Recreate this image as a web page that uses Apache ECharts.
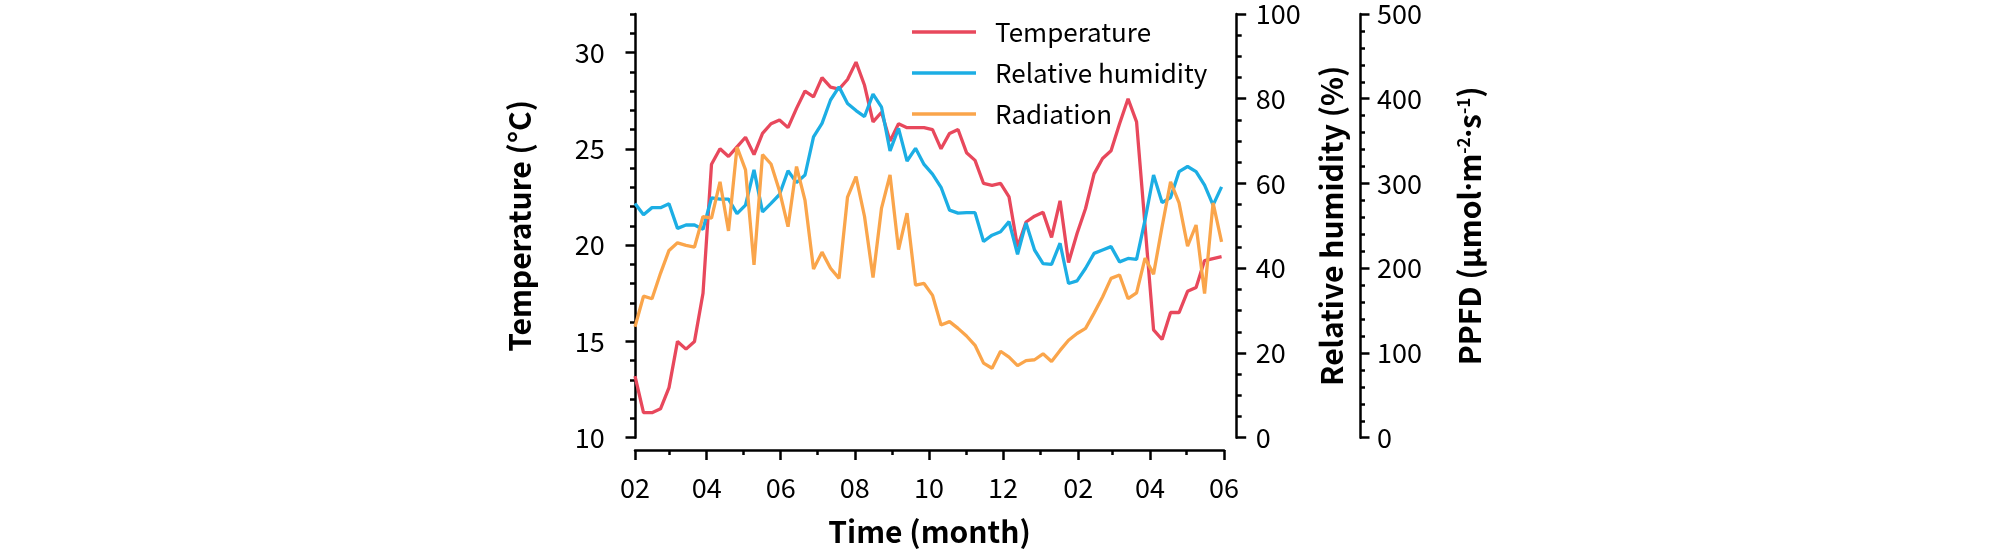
<!DOCTYPE html>
<html>
<head>
<meta charset="utf-8">
<script src="https://cdn.jsdelivr.net/npm/echarts@6/dist/echarts.min.js"></script>
<style>html,body{margin:0;padding:0;background:#fff}#c{width:2008px;height:555px}</style>
</head>
<body>
<div id="c"></div>
<script>
// Weekly observations starting 1 Feb (year 1) through end of May (year 2)
const firstWeek = '2021-02-01';
const temperature = [13.2, 11.3, 11.3, 11.5, 12.6, 15.0, 14.6, 15.0, 17.5, 24.2,
  25.0, 24.6, 25.1, 25.6, 24.7, 25.8, 26.3, 26.5, 26.1, 27.1,
  28.0, 27.7, 28.7, 28.2, 28.1, 28.6, 29.5, 28.3, 26.4, 26.9,
  25.4, 26.3, 26.1, 26.1, 26.1, 26.0, 25.0, 25.8, 26.0, 24.8,
  24.4, 23.2, 23.1, 23.2, 22.5, 19.9, 21.2, 21.5, 21.7, 20.4,
  22.3, 19.1, 20.6, 21.9, 23.7, 24.5, 24.9, 26.3, 27.6, 26.4,
  21.0, 15.6, 15.1, 16.5, 16.5, 17.6, 17.8, 19.2, 19.3, 19.4];
const humidity = [55.3, 52.6, 54.3, 54.3, 55.2, 49.4, 50.2, 50.2, 49.2, 56.6,
  56.3, 56.3, 52.9, 54.9, 63.2, 53.3, 55.3, 57.4, 63.0, 60.2,
  62.0, 71.0, 74.2, 79.7, 82.8, 78.9, 77.2, 75.8, 81.1, 78.0,
  67.7, 73.0, 65.3, 68.3, 64.5, 62.2, 59.1, 53.7, 53.0, 53.1,
  53.1, 46.3, 47.8, 48.6, 51.0, 43.3, 50.7, 44.3, 41.1, 40.9,
  45.9, 36.4, 37.0, 40.0, 43.5, 44.3, 45.1, 41.5, 42.3, 42.1,
  51.4, 62.0, 55.5, 56.7, 62.8, 64.0, 62.8, 59.6, 54.9, 59.2];
const radiation = [131, 167, 164, 194, 221, 230, 227, 225, 261, 259,
  302, 244, 343, 316, 204, 334, 323, 291, 249, 320,
  280, 199, 219, 200, 188, 284, 308, 261, 189, 271,
  310, 222, 265, 180, 182, 168, 133, 137, 129, 120,
  109, 88, 82, 102, 95, 85, 91, 92, 99, 90,
  103, 115, 123, 129, 147, 166, 188, 192, 164, 171,
  212, 193, 249, 302, 277, 226, 251, 170, 277, 231];
const monthTicks = ['2021-02-01','2021-03-01','2021-04-01','2021-05-01','2021-06-01','2021-07-01',
  '2021-08-01','2021-09-01','2021-10-01','2021-11-01','2021-12-01','2022-01-01','2022-02-01',
  '2022-03-01','2022-04-01','2022-05-01','2022-06-01'];
const monthLabels = ['2021-02-01','2021-04-01','2021-06-01','2021-08-01','2021-10-01',
  '2021-12-01','2022-02-01','2022-04-01','2022-06-01'];
const tempLabels = [10, 15, 20, 25, 30];
const seriesNames = ['Temperature', 'Relative humidity', 'Radiation'];
const colors = ['#E8485C', '#1CAEE4', '#FAA54B'];

// x positions expressed as days since the first observation
const DAY = 86400000;
const ts = s => Date.parse(s + 'T00:00:00Z');
const t0 = ts(firstWeek);
const dayOf = s => Math.round((ts(s) - t0) / DAY);
const weekDays = temperature.map((_, i) => i * 7);
const tickDays = monthTicks.map(dayOf);
const labelDays = monthLabels.map(dayOf);
const labelText = {};
monthLabels.forEach(s => { labelText[dayOf(s)] = s.slice(5, 7); });
const xMin = tickDays[0];
const xMax = tickDays[tickDays.length - 1];

const FONT = 'Noto Sans CJK KR';
const AX = { color: '#000', width: 2.5 };
const TICKFONT = { fontSize: 27, color: '#000', fontFamily: FONT };
const TITLEFONT = { fontSize: 30, fontWeight: 'bold', color: '#000', fontFamily: FONT };

const chart = echarts.init(document.getElementById('c'));
chart.setOption({
  animation: false,
  backgroundColor: '#fff',
  textStyle: { fontFamily: FONT, color: '#000' },
  grid: { left: 635, right: 784, top: 14, bottom: 117.3, containLabel: false },
  legend: {
    orient: 'vertical', left: 907, top: 12,
    icon: 'rect', itemWidth: 64, itemHeight: 3.5, itemGap: 11,
    data: seriesNames,
    textStyle: { fontSize: 26, lineHeight: 30, color: '#000', fontFamily: FONT, padding: [0, 0, 0, 14] }
  },
  xAxis: [{
    type: 'value', min: xMin, max: xMax, position: 'bottom', offset: 12.3,
    axisLine: { onZero: false, lineStyle: AX },
    axisTick: { show: true, length: 5, lineStyle: AX, customValues: tickDays },
    axisLabel: Object.assign({ customValues: labelDays, formatter: v => labelText[v] || '', margin: 24 }, TICKFONT),
    splitLine: { show: false },
    name: 'Time (month)', nameLocation: 'middle', nameGap: 67,
    nameTextStyle: TITLEFONT
  }, {
    type: 'value', min: xMin, max: xMax, position: 'bottom', offset: 12.3,
    axisLine: { show: false, onZero: false },
    axisTick: { show: true, length: 10, lineStyle: AX, customValues: labelDays },
    axisLabel: { show: false }, splitLine: { show: false }
  }],
  yAxis: [{
    type: 'value', position: 'left', offset: 12.3, min: 10, max: 32, interval: 1,
    axisLine: { show: true, lineStyle: AX },
    axisTick: { show: true, length: 5, lineStyle: AX },
    axisLabel: Object.assign({ customValues: tempLabels, margin: 18 }, TICKFONT),
    splitLine: { show: false },
    name: 'Temperature (°C)', nameLocation: 'middle', nameRotate: 90, nameGap: 88,
    nameTextStyle: TITLEFONT
  }, {
    type: 'value', position: 'left', offset: 12.3, min: 10, max: 32, interval: 5,
    axisLine: { show: false },
    axisTick: { show: true, length: 9.5, lineStyle: AX, customValues: tempLabels },
    axisLabel: { show: false }, splitLine: { show: false }
  }, {
    type: 'value', position: 'right', offset: 12.7, min: 0, max: 100, interval: 20,
    axisLine: { show: true, lineStyle: AX },
    axisTick: { show: true, length: 9.5, lineStyle: AX },
    minorTick: { show: true, splitNumber: 4, length: 5, lineStyle: AX },
    axisLabel: Object.assign({ margin: 19 }, TICKFONT),
    splitLine: { show: false }, minorSplitLine: { show: false },
    name: 'Relative humidity (%)', nameLocation: 'middle', nameRotate: 90, nameGap: 80,
    nameTextStyle: TITLEFONT
  }, {
    type: 'value', position: 'right', offset: 136, min: 0, max: 500, interval: 100,
    axisLine: { show: true, lineStyle: AX },
    axisTick: { show: true, length: 9.5, lineStyle: AX },
    minorTick: { show: true, splitNumber: 5, length: 5, lineStyle: AX },
    axisLabel: Object.assign({ margin: 17 }, TICKFONT),
    splitLine: { show: false }, minorSplitLine: { show: false },
    name: 'PPFD (μmol{d|·}m{s|-2}{d|·}s{s|-1})', nameLocation: 'middle', nameRotate: 90, nameGap: 95,
    nameTextStyle: Object.assign({
      rich: {
        s: { fontSize: 17, fontWeight: 'bold', fontFamily: FONT, color: '#000', verticalAlign: 'top', lineHeight: 30 },
        d: { fontSize: 30, fontWeight: 'bold', fontFamily: 'Noto Sans', color: '#000' }
      }
    }, TITLEFONT)
  }],
  series: [
    { name: seriesNames[0], type: 'line', xAxisIndex: 0, yAxisIndex: 0, showSymbol: false, symbol: 'none',
      lineStyle: { width: 3.3, color: colors[0] }, itemStyle: { color: colors[0] },
      data: temperature.map((v, i) => [weekDays[i], v]) },
    { name: seriesNames[1], type: 'line', xAxisIndex: 0, yAxisIndex: 2, showSymbol: false, symbol: 'none',
      lineStyle: { width: 3.3, color: colors[1] }, itemStyle: { color: colors[1] },
      data: humidity.map((v, i) => [weekDays[i], v]) },
    { name: seriesNames[2], type: 'line', xAxisIndex: 0, yAxisIndex: 3, showSymbol: false, symbol: 'none',
      lineStyle: { width: 3.3, color: colors[2] }, itemStyle: { color: colors[2] },
      data: radiation.map((v, i) => [weekDays[i], v]) }
  ]
});
</script>
</body>
</html>
